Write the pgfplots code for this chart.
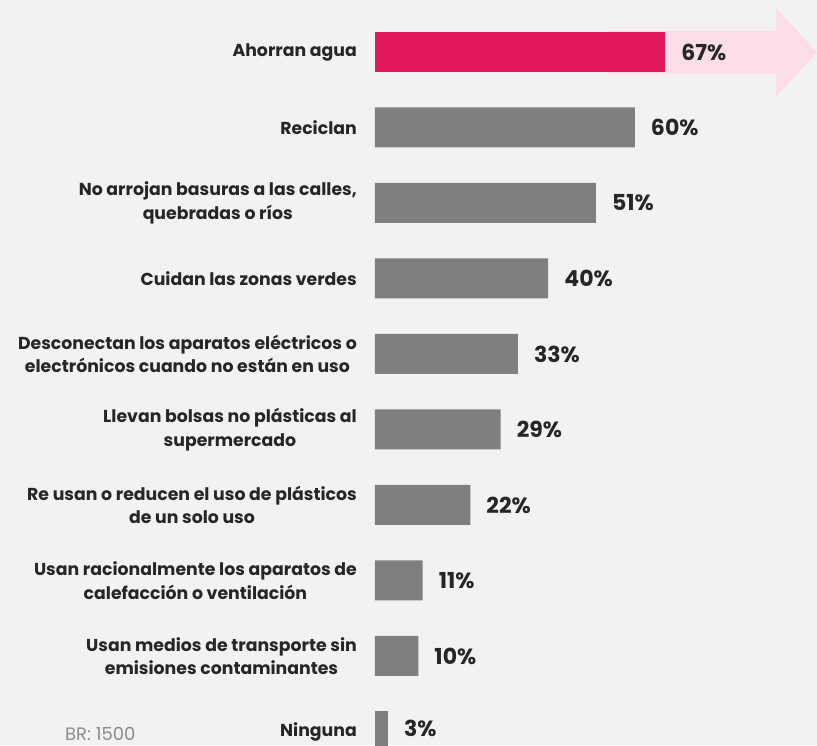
\documentclass[border=0pt]{standalone}
\usepackage{pgfplots}
\pgfplotsset{compat=1.18}
\usepackage{fontspec}
\setmainfont{Poppins}
\definecolor{bg}{HTML}{F2F2F2}
\definecolor{barpink}{HTML}{E3195D}
\definecolor{arrowpink}{HTML}{FBDDE6}
\definecolor{bargray}{HTML}{7F7F7F}
\definecolor{txt}{HTML}{262626}
\definecolor{note}{HTML}{8C8C8C}
\begin{document}
\begin{tikzpicture}[x=1pt,y=1pt]
\clip (0,0) rectangle (817,745);
\fill[bg] (0,0) rectangle (817,745);
\fill[arrowpink] (608,714) -- (776,714) -- (776,737) -- (817,692.5) -- (776,648) -- (776,671) -- (608,671) -- cycle;
\node[anchor=base west, text=note, font=\fontsize{18}{20}\selectfont, inner sep=0pt] at (65,5) {BR: 1500};
\begin{axis}[
  at={(375pt,0pt)}, anchor=south west,
  scale only axis, width=442pt, height=745pt,
  xmin=0, xmax=102.08, ymin=-0.6887, ymax=9.179,
  y dir=reverse, clip=false,
  xbar, bar shift=0pt, bar width=40pt,
  axis line style={draw=none},
  xtick=\empty,
  ytick={0,...,9},
  major tick length=0pt,
  yticklabels={
    {Ahorran agua},
    {Reciclan},
    {No arrojan basuras a las calles,\\quebradas o ríos},
    {Cuidan las zonas verdes},
    {Desconectan los aparatos eléctricos o\\electrónicos cuando no están en uso},
    {Llevan bolsas no plásticas al\\supermercado},
    {Re usan o reducen el uso de plásticos\\de un solo uso},
    {Usan racionalmente los aparatos de\\calefacción o ventilación},
    {Usan medios de transporte sin\\emisiones contaminantes},
    {Ninguna}},
  yticklabel style={align=center, text=txt, inner sep=0pt, xshift=-18pt,
    font=\bfseries\fontsize{17.3}{23.3}\selectfont},
  nodes near coords={\pgfmathprintnumber[assume math mode=true]{\pgfplotspointmeta}\%},
  nodes near coords style={anchor=west, inner sep=0pt, xshift=16pt, text=txt, font=\bfseries\fontsize{22}{24}\selectfont},
]
\addplot[fill=barpink, draw=none] coordinates {(67,0)};
\addplot[fill=bargray, draw=none] coordinates {(60,1) (51,2) (40,3) (33,4) (29,5) (22,6) (11,7) (10,8)};
\addplot[fill=bargray, draw=none, nodes near coords style={yshift=3pt}] coordinates {(3,9)};
\end{axis}
\end{tikzpicture}
\end{document}
